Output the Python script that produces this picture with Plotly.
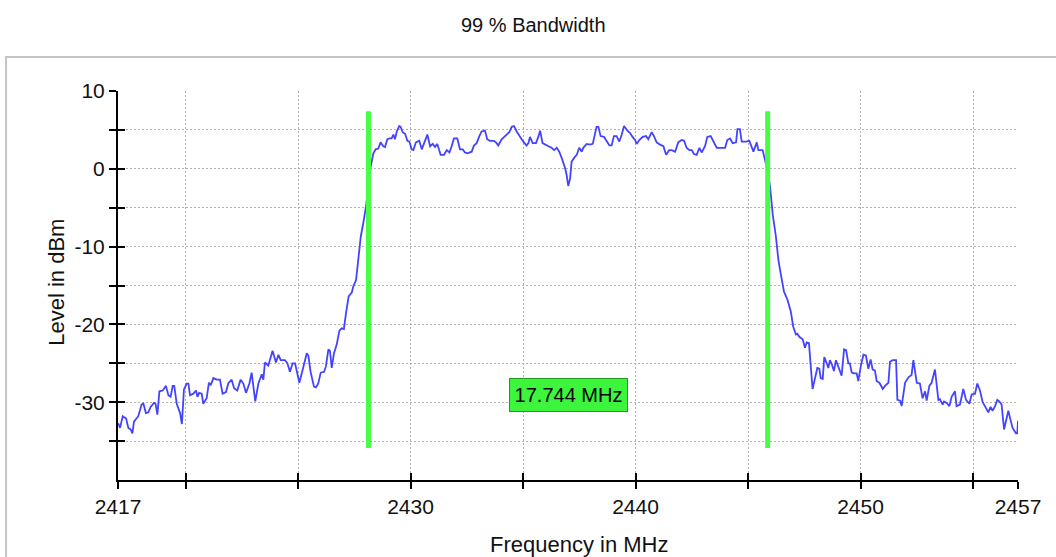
import plotly.graph_objects as go

# ---- data ----
freq_mhz = [
 2417.01,2417.09,2417.21,2417.36,2417.46,2417.56,2417.64,2417.71,2417.90,2418.05,
 2418.13,2418.24,2418.35,2418.45,2418.60,2418.67,2418.75,2418.84,2418.99,2419.13,
 2419.24,2419.34,2419.43,2419.50,2419.61,2419.76,2419.84,2419.93,2420.05,2420.13,
 2420.20,2420.35,2420.47,2420.53,2420.61,2420.72,2420.79,2420.94,2421.04,2421.12,
 2421.24,2421.39,2421.53,2421.65,2421.80,2421.90,2422.05,2422.16,2422.30,2422.45,
 2422.57,2422.69,2422.84,2422.94,2423.10,2423.24,2423.39,2423.46,2423.53,2423.68,
 2423.87,2424.02,2424.13,2424.23,2424.42,2424.53,2424.64,2424.76,2424.87,2424.94,
 2425.06,2425.21,2425.39,2425.46,2425.56,2425.71,2425.80,2425.90,2426.01,2426.16,
 2426.24,2426.35,2426.42,2426.50,2426.60,2426.72,2426.84,2426.94,2427.04,2427.13,
 2427.25,2427.39,2427.46,2427.58,2427.68,2427.79,2427.90,2428.02,2428.13,2428.23,
 2428.35,2428.45,2428.57,2428.67,2428.79,2428.87,2428.97,2429.06,
 2429.16,2429.24,2429.31,2429.39,2429.50,2429.56,2429.65,2429.76,2429.86,2429.95,
 2430.05,2430.13,2430.24,2430.39,2430.50,2430.60,2430.75,2430.87,2430.99,2431.09,
 2431.19,2431.34,2431.49,2431.61,2431.73,2431.83,2431.93,2432.08,2432.20,2432.32,
 2432.42,2432.53,2432.72,2432.82,2432.94,2433.06,2433.16,2433.31,2433.41,2433.53,
 2433.71,2433.83,2433.90,2434.05,2434.16,2434.27,2434.39,2434.50,2434.60,2434.72,
 2434.84,2434.94,2435.04,2435.16,2435.24,2435.31,2435.43,2435.58,2435.68,2435.76,
 2435.87,2435.98,2436.13,2436.27,2436.38,2436.50,2436.61,2436.72,2436.79,2436.87,
 2436.94,2437.01,2437.09,2437.16,2437.27,2437.39,2437.50,2437.61,2437.68,2437.83,
 2437.98,2438.10,2438.17,2438.27,2438.35,2438.45,2438.60,2438.72,2438.84,2438.94,
 2439.04,2439.16,2439.28,2439.39,2439.49,2439.64,2439.76,2439.87,2439.98,2440.05,
 2440.17,2440.32,2440.47,2440.57,2440.72,2440.82,2440.94,2441.09,2441.24,2441.36,
 2441.50,2441.61,2441.76,2441.90,2442.05,2442.16,2442.27,2442.39,2442.50,2442.60,
 2442.72,2442.84,2442.94,2443.09,2443.19,2443.34,2443.46,2443.61,2443.83,2443.98,
 2444.08,2444.20,2444.32,2444.47,2444.53,
 2444.64,2444.72,2444.91,2445.06,2445.16,2445.24,2445.39,2445.46,2445.65,2445.76,
 2445.86,2445.98,2446.10,2446.24,2446.35,2446.45,2446.60,2446.75,2446.90,2447.01,
 2447.13,2447.19,2447.28,2447.43,2447.53,2447.61,2447.71,2447.79,2447.87,2447.98,
 2448.08,2448.17,2448.23,2448.32,2448.39,2448.50,2448.57,2448.64,2448.72,2448.82,
 2448.91,2449.01,2449.16,2449.27,2449.36,2449.46,2449.53,2449.61,2449.71,2449.83,
 2449.90,2450.01,2450.13,2450.24,2450.35,2450.45,2450.54,2450.64,2450.72,2450.84,
 2450.99,2451.09,2451.24,2451.31,2451.43,2451.58,2451.64,2451.76,2451.83,2451.98,
 2452.13,2452.27,2452.35,2452.50,2452.64,2452.76,2452.87,2452.94,2453.06,2453.16,
 2453.31,2453.46,2453.53,2453.65,2453.71,2453.83,2453.95,2454.05,2454.20,2454.27,
 2454.42,2454.57,2454.69,2454.84,2454.94,2455.09,2455.19,2455.31,2455.43,2455.53,
 2455.68,2455.78,2455.87,2455.98,2456.08,2456.17,2456.27,2456.38,2456.47,2456.57,
 2456.67,2456.76,2456.91,2456.97,2457.00,
]
level_dbm = [
 -32.7,-33.3,-31.8,-32.1,-33.3,-33.5,-34.0,-32.5,-31.8,-30.3,
 -30.2,-31.4,-31.3,-30.6,-30.1,-30.2,-31.6,-28.6,-28.5,-27.9,
 -29.1,-29.3,-27.9,-27.9,-30.2,-31.4,-32.8,-28.4,-27.6,-27.6,
 -29.1,-28.9,-28.5,-29.3,-28.8,-28.9,-30.2,-29.5,-27.5,-27.8,
 -26.9,-27.1,-27.1,-28.9,-28.7,-27.6,-27.1,-28.2,-28.5,-27.1,
 -27.6,-28.8,-27.6,-26.2,-29.9,-27.6,-26.4,-27.1,-24.9,-25.3,
 -23.4,-24.9,-23.9,-24.6,-24.6,-25.0,-26.1,-25.0,-25.0,-26.1,
 -27.5,-25.8,-23.7,-24.0,-26.1,-28.0,-28.1,-27.6,-26.2,-26.1,
 -25.4,-23.2,-23.4,-25.6,-23.7,-22.6,-20.8,-20.5,-20.6,-18.6,
 -16.4,-15.9,-15.1,-14.3,-11.7,-8.7,-7.0,-4.9,-2.3,0.3,
 2.0,2.5,2.6,3.4,2.9,2.8,3.8,3.9,
 3.9,4.4,3.8,4.8,5.5,5.4,4.7,4.5,3.6,3.5,
 2.5,2.4,3.4,3.6,2.5,3.3,4.4,2.9,3.2,2.8,
 3.2,1.8,1.8,2.4,2.1,2.9,3.9,3.9,2.5,2.5,
 2.1,2.0,2.2,3.0,3.3,4.2,4.8,4.9,3.8,3.6,
 3.6,3.3,3.0,3.8,4.1,4.4,4.7,5.4,5.5,4.8,
 4.2,3.8,3.4,3.0,3.3,4.1,3.3,3.3,4.1,4.9,
 3.3,3.1,2.9,2.7,2.4,2.7,2.2,1.4,0.8,0.1,
 -0.8,-2.2,-1.3,0.9,1.4,1.8,2.7,2.2,2.7,3.2,
 3.1,3.2,4.1,5.4,5.4,4.2,4.1,3.6,3.0,3.0,
 4.2,4.2,3.5,4.4,5.5,4.9,4.6,4.1,3.7,3.2,
 3.7,4.1,4.2,3.8,4.7,4.2,3.4,3.1,2.9,1.8,
 2.4,2.4,2.2,3.4,3.7,3.6,2.7,2.4,2.4,1.9,
 1.8,2.7,2.1,2.9,4.1,4.2,3.5,2.7,2.7,2.7,
 3.7,3.9,3.3,3.4,5.1,
 5.1,3.5,3.5,3.6,2.7,2.2,3.4,2.4,2.4,1.2,
 -0.1,-2.3,-5.9,-8.7,-11.7,-13.4,-15.8,-16.8,-18.3,-20.3,
 -21.3,-21.2,-21.6,-21.9,-23.0,-22.3,-22.4,-25.4,-28.3,-26.9,
 -25.6,-25.7,-26.9,-27.0,-24.2,-25.0,-25.6,-24.6,-25.1,-26.0,
 -24.6,-25.4,-26.6,-23.2,-23.3,-25.0,-25.0,-26.2,-26.3,-26.3,
 -27.3,-25.4,-23.9,-24.0,-25.7,-24.5,-25.8,-25.9,-27.3,-27.5,
 -28.3,-27.9,-27.5,-24.8,-24.6,-24.6,-29.7,-29.8,-30.5,-27.5,
 -26.8,-26.5,-24.6,-27.5,-27.6,-29.5,-28.6,-29.8,-27.9,-27.5,
 -25.8,-29.7,-29.6,-30.3,-29.9,-30.1,-30.5,-29.3,-28.6,-30.5,
 -30.3,-28.3,-29.7,-30.2,-29.0,-28.9,-27.6,-28.5,-30.0,-30.5,
 -31.3,-30.6,-31.1,-30.5,-29.7,-29.9,-30.3,-33.5,-32.2,-31.1,
 -32.3,-33.3,-34.0,-34.0,-32.4,
]

obw_edges_mhz = [2428.13, 2445.874]
obw_marker_top_dbm = 7.4
obw_marker_bottom_dbm = -35.9
obw_label = "17.744 MHz"
obw_label_level_dbm = -29.1

x_tickvals = [2417, 2420, 2425, 2430, 2435, 2440, 2445, 2450, 2455, 2457]
x_ticktext = ["2417", "", "", "2430", "", "2440", "", "2450", "", "2457"]
y_tickvals = [-35, -30, -25, -20, -15, -10, -5, 0, 5, 10]
y_ticktext = ["", "-30", "", "-20", "", "-10", "", "0", "", "10"]

title_text = "99 % Bandwidth"
x_title = "Frequency in MHz"
y_title = "Level in dBm"

FONT = "Liberation Sans Narrow, Arial Narrow, Liberation Sans, Arial, sans-serif"
TXT = "#111111"
BLUE = "#4444ff"
GREEN = "#44ff44"

fig = go.Figure()
fig.add_trace(go.Scatter(x=freq_mhz, y=level_dbm, mode="lines",
                         line=dict(color=BLUE, width=1.8), showlegend=False,
                         hoverinfo="x+y"))
for edge in obw_edges_mhz:
    fig.add_trace(go.Scatter(x=[edge, edge], y=[obw_marker_bottom_dbm, obw_marker_top_dbm],
                             mode="lines", line=dict(color=GREEN, width=5),
                             showlegend=False, hoverinfo="skip"))
# empty trace to activate the overlay axes used for inner tick halves
fig.add_trace(go.Scatter(x=[], y=[], xaxis="x2", yaxis="y2", showlegend=False))

mid = (obw_edges_mhz[0] + obw_edges_mhz[1]) / 2
fig.add_annotation(x=mid, y=obw_label_level_dbm, text=obw_label, showarrow=False,
                   font=dict(family=FONT, size=20, color="#000000"),
                   bgcolor="#3cf53c", bordercolor="#1e9e1e", borderwidth=1,
                   borderpad=2, width=113, height=28)

# axis titles and chart title
fig.add_annotation(xref="paper", yref="paper", x=0.513, y=-0.167, text=x_title,
                   showarrow=False, font=dict(family=FONT, size=22, color=TXT),
                   xanchor="center", yanchor="middle")
fig.add_annotation(xref="paper", yref="paper", x=-0.068, y=0.509, text=y_title,
                   showarrow=False, textangle=-90, font=dict(family=FONT, size=22, color=TXT),
                   xanchor="center", yanchor="middle")

# outer panel frame
fig.add_shape(type="rect", xref="paper", yref="paper", x0=-0.1244, x1=1.06,
              y0=-0.25, y1=1.0874, line=dict(color="#c4c4c4", width=2), layer="below")

axis_common = dict(showline=True, linecolor="#000000", linewidth=2, mirror=False,
                   ticks="outside", ticklen=7, tickwidth=2, tickcolor="#000000",
                   showgrid=True, gridcolor="#b0b0b0", gridwidth=1, griddash="2px,2px",
                   zeroline=False, tickfont=dict(family=FONT, size=21, color=TXT))

fig.update_layout(
    width=1056, height=557,
    margin=dict(l=118, r=38, t=91, b=77),
    paper_bgcolor="white", plot_bgcolor="white",
    title=dict(text=title_text, x=0.505, xref="container", y=1 - 25 / 557,
               yref="container", xanchor="center", yanchor="middle",
               font=dict(family=FONT, size=20, color=TXT)),
    xaxis=dict(range=[2417, 2457], tickmode="array", tickvals=x_tickvals,
               ticktext=x_ticktext, **axis_common),
    yaxis=dict(range=[-40, 10], tickmode="array", tickvals=y_tickvals,
               ticktext=y_ticktext, **axis_common),
    xaxis2=dict(overlaying="x", range=[2417, 2457], tickmode="array", tickvals=x_tickvals,
                ticks="inside", ticklen=7, tickwidth=2, tickcolor="#000000",
                showticklabels=False, showgrid=False, showline=False, zeroline=False),
    yaxis2=dict(overlaying="y", range=[-40, 10], tickmode="array", tickvals=y_tickvals,
                ticks="inside", ticklen=7, tickwidth=2, tickcolor="#000000",
                showticklabels=False, showgrid=False, showline=False, zeroline=False),
    showlegend=False,
)

fig.write_html("out.html")
